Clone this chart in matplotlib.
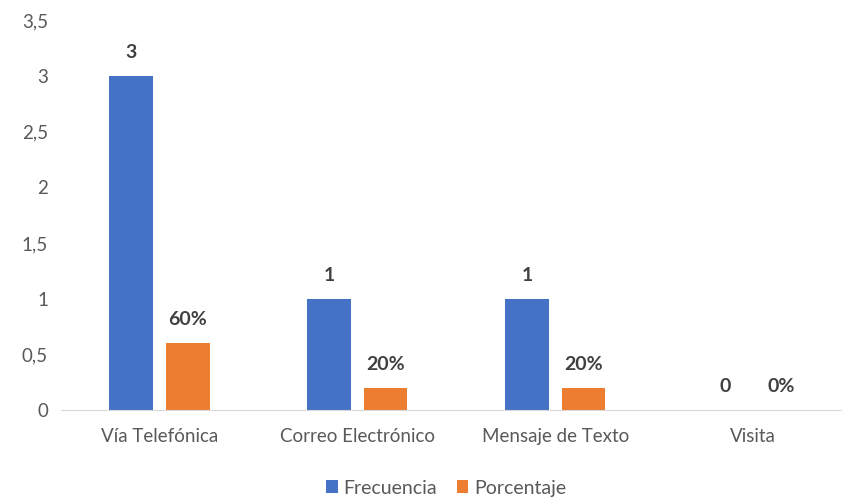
import matplotlib.pyplot as plt
import numpy as np
from matplotlib.ticker import FuncFormatter

# canales de contacto
categorias = ['Vía Telefónica', 'Correo Electrónico', 'Mensaje de Texto', 'Visita']
frecuencia = [3, 1, 1, 0]
porcentaje = [0.6, 0.2, 0.2, 0.0]
yticks = [0, 0.5, 1, 1.5, 2, 2.5, 3, 3.5]

AZUL = '#4472C4'
NARANJA = '#ED7D31'
GRIS = '#595959'

plt.rcParams['font.family'] = ['Lato', 'DejaVu Sans']

fig = plt.figure(figsize=(8.42, 4.99), dpi=100)
ax = fig.add_axes([0.072, 0.178, 0.94, 0.782])

x = np.arange(len(categorias))
w = 0.22
off = 0.143
b1 = ax.bar(x - off, frecuencia, w, color=AZUL, label='Frecuencia')
b2 = ax.bar(x + off, porcentaje, w, color=NARANJA, label='Porcentaje')

for rect, v in zip(b1, frecuencia):
    ax.annotate(f'{v}', (rect.get_x() + rect.get_width() / 2, v),
                xytext=(0, 17), textcoords='offset points', ha='center',
                va='center', fontsize=14, fontweight='bold', color='#404040')
for rect, v in zip(b2, porcentaje):
    ax.annotate(f'{v:.0%}', (rect.get_x() + rect.get_width() / 2, v),
                xytext=(0, 17), textcoords='offset points', ha='center',
                va='center', fontsize=14, fontweight='bold', color='#404040')

ax.set_xlim(-0.5, 3.5)
ax.set_ylim(0, 3.5)
ax.set_yticks(yticks)
ax.yaxis.set_major_formatter(FuncFormatter(lambda v, p: f'{v:g}'.replace('.', ',')))
ax.set_xticks(x)
ax.set_xticklabels(categorias)
ax.tick_params(axis='both', length=0, colors=GRIS, labelsize=13.5)
ax.tick_params(axis='y', pad=9)
ax.tick_params(axis='x', pad=13)

for s in ['top', 'right', 'left']:
    ax.spines[s].set_visible(False)
ax.spines['bottom'].set_color('#D9D9D9')

leg = fig.legend(handles=[b1, b2], loc='center', bbox_to_anchor=(0.53, 0.022),
                 ncol=2, frameon=False, fontsize=14, handlelength=0.6,
                 handleheight=0.6, handletextpad=0.3, columnspacing=1.0)
for t in leg.get_texts():
    t.set_color(GRIS)

fig.savefig('out.png', dpi=100)
